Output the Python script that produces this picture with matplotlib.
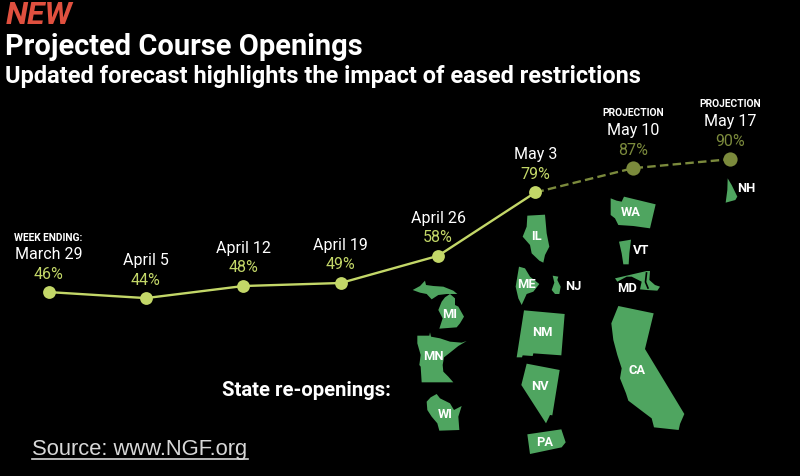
import matplotlib
matplotlib.use('Agg')
from matplotlib import pyplot as plt
from matplotlib.patches import Polygon

plt.rcParams['font.family'] = ['Roboto', 'DejaVu Sans']

# Chart data
weeks = ['March 29', 'April 5', 'April 12', 'April 19', 'April 26', 'May 3', 'May 10', 'May 17']
percent = [46, 44, 48, 49, 58, 79, 87, 90]
projected_from = 5

LINE = '#c3d768'
PROJ = '#7b8a3c'
GREEN = '#4fa560'

crop_a = (400, 270)
crop_b = (500, 90)

states = {
    'MI1': (crop_a, [(38,60),(60,48),(75,32),(78,45),(100,48),(130,50),(160,62),(172,72),(140,72),(115,75),(95,88),(80,72),(60,68)]),
    'MI2': (crop_a, [(118,176),(128,145),(115,120),(125,95),(135,82),(150,72),(165,85),(165,105),(175,110),(192,140),(180,160),(170,172)]),
    'MN': (crop_a, [(52,197),(88,197),(90,187),(93,200),(120,205),(150,215),(185,218),(200,213),(175,228),(150,248),(132,262),(128,285),(130,305),(145,320),(160,337),(65,337),(62,290),(58,285),(62,255),(52,220)]),
    'WI': (crop_a, [(80,395),(92,382),(110,372),(120,385),(150,400),(162,420),(185,408),(175,440),(178,480),(118,482),(112,460),(95,440),(82,420)]),
    'NM': (crop_a, [(372,121),(494,132),(484,256),(400,250),(398,258),(368,256),(366,262),(350,262)]),
    'NV': (crop_a, [(380,281),(479,300),(457,436),(450,435),(438,460),(364,345)]),
    'PA': (crop_a, [(382,493),(484,478),(497,517),(485,532),(390,552)]),
    'CA': (crop_a, [(655,108),(761,130),(735,237),(853,432),(840,462),(836,480),(762,472),(755,445),(735,430),(685,392),(678,370),(660,325),(665,295),(652,255),(640,210),(634,160)]),
    'IL': (crop_b, [(82,377),(135,374),(140,430),(148,470),(135,495),(130,518),(118,512),(95,490),(90,465),(68,440),(80,410)]),
    'ME': (crop_b, [(57,530),(75,535),(90,560),(118,582),(100,605),(80,612),(65,645),(55,625),(47,590)]),
    'NJ': (crop_b, [(158,557),(175,560),(172,570),(182,590),(178,612),(165,612),(155,600),(163,578)]),
    'WA': (crop_b, [(332,325),(350,332),(365,335),(372,320),(467,343),(450,415),(400,408),(355,405),(345,385),(332,375)]),
    'VT': (crop_b, [(357,455),(393,449),(388,490),(386,523),(370,523),(365,490)]),
    'MD': (crop_b, [(345,565),(440,543),(450,543),(448,570),(465,585),(480,590),(472,602),(440,600),(420,598),(425,575),(395,560),(380,560),(352,575)]),
    'NH': (crop_b, [(683,265),(695,285),(712,320),(706,330),(677,338),(682,300)]),
}

state_labels = [('MI', 450, 314), ('MN', 433, 356), ('WI', 445, 415), ('IL', 536, 236),
                ('ME', 526, 284), ('NJ', 573, 287), ('NM', 542, 333), ('NV', 540, 387),
                ('PA', 545, 443), ('CA', 637, 370), ('WA', 631, 213), ('VT', 641, 251),
                ('MD', 627, 289), ('NH', 746, 189)]

fig = plt.figure(figsize=(8, 4.76), dpi=100, facecolor='black')

# Pixel layer for titles and the map
bg = fig.add_axes([0, 0, 1, 1])
bg.set_xlim(0, 800)
bg.set_ylim(476, 0)
bg.axis('off')

for name in states:
    (left, top), pts = states[name]
    xy = [(left + x / 3, top + y / 3) for x, y in pts]
    bg.add_patch(Polygon(xy, closed=True, facecolor=GREEN, edgecolor='none'))

# Chesapeake Bay cut through Maryland
bg.plot([646.5, 645.5, 648], [273, 282, 288], color='black', lw=1.2)

for name, x, y in state_labels:
    bg.text(x, y, name, color='white', fontsize=9.3, fontweight='bold', ha='center', va='center')

bg.text(6, 15, 'NEW', color='#e0503f', fontsize=23, fontweight='bold', style='italic', va='center')
bg.text(5, 47, 'Projected Course Openings', color='white', fontsize=20.9, fontweight='bold', va='center')
bg.text(5, 77, 'Updated forecast highlights the impact of eased restrictions', color='white',
        fontsize=16.9, fontweight='bold', va='center')
bg.text(222, 390, 'State re-openings:', color='white', fontsize=14.6, fontweight='bold', va='center')
bg.text(32, 449, 'Source: www.NGF.org', color='#d8d8d8', fontsize=15.8, family='Liberation Sans', va='center')
bg.plot([32, 248], [459, 459], color='#d8d8d8', lw=1.2)

# Data layer, scaled so the week spacing and percent range land on the right pixels
ax = fig.add_axes([0, 0, 1, 1])
ax.patch.set_alpha(0)
ax.set_xlim(-0.498, 7.716)
ax.set_ylim(-14.9, 142.7)
ax.axis('off')

idx = list(range(len(weeks)))
ax.plot(idx[:projected_from + 1], percent[:projected_from + 1], color=LINE, lw=1.7, zorder=2)
ax.plot(idx[projected_from:], percent[projected_from:], color=PROJ, lw=1.7, ls=(0, (3.6, 1.8)), zorder=2)
ax.scatter(idx[:projected_from + 1], percent[:projected_from + 1], s=85, color=LINE, linewidths=0, zorder=3)
ax.scatter(idx[projected_from + 1:], percent[projected_from + 1:], s=105, color=PROJ, linewidths=0, zorder=3)

for i in idx:
    c = LINE if i <= projected_from else PROJ
    ax.annotate(f'{percent[i]}%', (i, percent[i]), xytext=(0, 13), textcoords='offset points',
                color=c, fontsize=11.5, ha='center', va='center')
    ax.annotate(weeks[i], (i, percent[i]), xytext=(0, 27), textcoords='offset points',
                color='white', fontsize=11.5, ha='center', va='center')

small = dict(color='white', fontsize=7.4, fontweight='bold', ha='center', va='center',
             textcoords='offset points')
ax.annotate('WEEK ENDING:', (0, percent[0]), xytext=(0, 39), **small)
ax.annotate('PROJECTION', (6, percent[6]), xytext=(0, 40), **small)
ax.annotate('PROJECTION', (7, percent[7]), xytext=(0, 40), **small)

fig.savefig('out.png', dpi=100, facecolor='black')
